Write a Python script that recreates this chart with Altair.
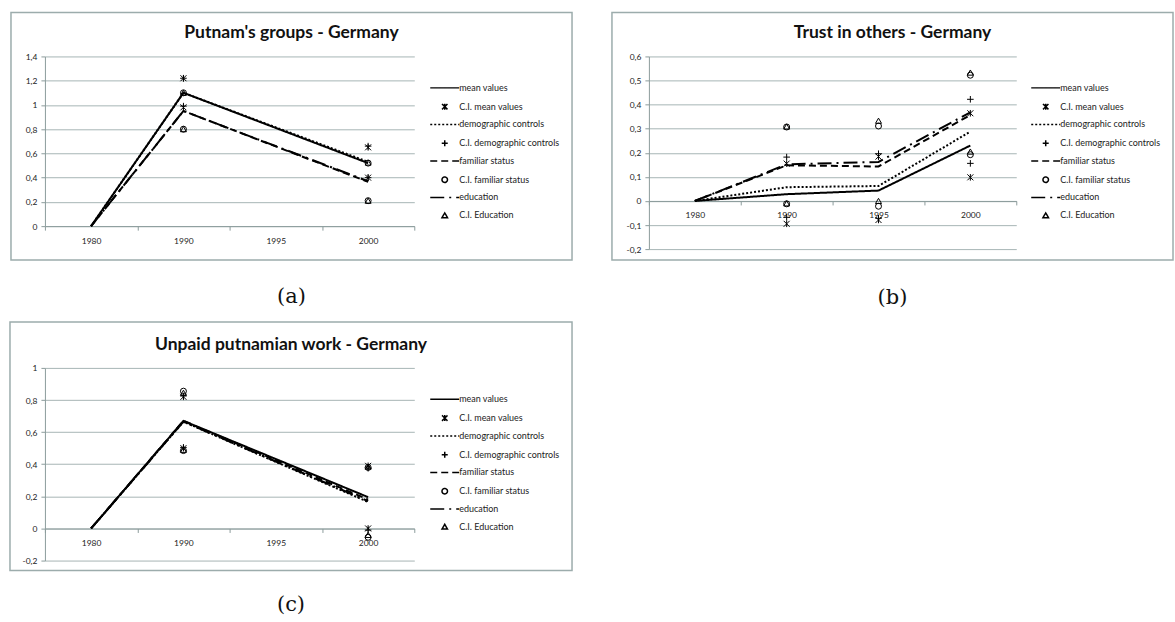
import altair as alt
import pandas as pd

YEARS = ["1980", "1990", "1995", "2000"]
SERIES = [
    "mean values", "C.I. mean values",
    "demographic controls", "C.I. demographic controls",
    "familiar status", "C.I. familiar status",
    "education", "C.I. Education",
]

# (a) Putnam's groups - Germany (no 1995 observation)
a_mean = [0.0, 1.10, None, 0.52]
a_demo = [0.0, 1.10, None, 0.53]
a_fam = [0.0, 0.95, None, 0.365]
a_edu = [0.0, 0.95, None, 0.37]
a_ci_mean_hi = [None, 1.22, None, 0.65]
a_ci_mean_lo = [None, 0.98, None, 0.40]
a_ci_demo_hi = [None, 1.22, None, 0.66]
a_ci_demo_lo = [None, 0.99, None, 0.40]
a_ci_fam_hi = [None, 1.10, None, 0.52]
a_ci_fam_lo = [None, 0.80, None, 0.21]
a_ci_edu_hi = [None, 1.10, None, 0.525]
a_ci_edu_lo = [None, 0.80, None, 0.21]
a_ticks = [0, 0.2, 0.4, 0.6, 0.8, 1.0, 1.2, 1.4]

# (b) Trust in others - Germany
b_mean = [0.0, 0.028, 0.043, 0.23]
b_demo = [0.0, 0.057, 0.062, 0.288]
b_fam = [0.0, 0.148, 0.143, 0.357]
b_edu = [0.0, 0.152, 0.162, 0.368]
b_ci_mean_hi = [None, 0.155, 0.184, 0.364]
b_ci_mean_lo = [None, -0.095, -0.079, 0.098]
b_ci_demo_hi = [None, 0.182, 0.196, 0.422]
b_ci_demo_lo = [None, -0.068, -0.072, 0.156]
b_ci_fam_hi = [None, 0.307, 0.311, 0.522]
b_ci_fam_lo = [None, -0.012, -0.022, 0.192]
b_ci_edu_hi = [None, 0.309, 0.333, 0.533]
b_ci_edu_lo = [None, -0.010, 0.000, 0.205]
b_ticks = [-0.2, -0.1, 0, 0.1, 0.2, 0.3, 0.4, 0.5, 0.6]

# (c) Unpaid putnamian work - Germany (no 1995 observation)
c_mean = [0.0, 0.67, None, 0.195]
c_demo = [0.0, 0.665, None, 0.165]
c_fam = [0.0, 0.67, None, 0.18]
c_edu = [0.0, 0.665, None, 0.17]
c_ci_mean_hi = [None, 0.82, None, 0.39]
c_ci_mean_lo = [None, 0.50, None, 0.00]
c_ci_demo_hi = [None, 0.825, None, 0.375]
c_ci_demo_lo = [None, 0.505, None, -0.01]
c_ci_fam_hi = [None, 0.855, None, 0.38]
c_ci_fam_lo = [None, 0.485, None, -0.055]
c_ci_edu_hi = [None, 0.845, None, 0.385]
c_ci_edu_lo = [None, 0.49, None, -0.04]
c_ticks = [-0.2, 0, 0.2, 0.4, 0.6, 0.8, 1.0]

# line styles and CI marker glyphs, in SERIES order
KEY_LINE = "M-5.3,0L5.3,0"
STAR = "M-1,-1L1,1M-1,1L1,-1M0,-1.1L0,1.1"
PLUS = "M-1.1,0L1.1,0M0,-1.1L0,1.1"
SHAPES = [KEY_LINE, STAR, KEY_LINE, PLUS, KEY_LINE, "circle", KEY_LINE, "triangle-up"]
DASHES = [[1, 0], [1, 0], [2, 2], [1, 0], [7, 4], [1, 0], [14, 5, 2, 5], [1, 0]]

GRID = "#a7b5b5"
AXIS = "#8c9c9c"
FRAME = "#9cacac"
FONT = "Lato"
LABEL_EXPR = "replace(replace(format(datum.value, '.1~f'), '.', ','), '\u2212', '-')"


def line_frame(series):
    rows = []
    for name, vals in series.items():
        for yr, v in zip(YEARS, vals):
            if v is not None:
                rows.append({"year": yr, "series": name, "value": v})
    return pd.DataFrame(rows)


def ci_frame(bounds):
    rows = []
    for name, (hi, lo) in bounds.items():
        for yr, h, l in zip(YEARS, hi, lo):
            if h is not None:
                rows.append({"year": yr, "series": name, "value": h})
            if l is not None:
                rows.append({"year": yr, "series": name, "value": l})
    return pd.DataFrame(rows)


def panel(title, caption, lines, bounds, ydom, yticks, w, h, box, legend_xy):
    left, right, top, bottom = box
    cx = (left + right) / 2
    x_off = -h * (0 - ydom[0]) / (ydom[1] - ydom[0])

    x_enc = alt.X(
        "year:N",
        sort=YEARS,
        scale=alt.Scale(type="band", domain=YEARS, paddingInner=0, paddingOuter=0),
        axis=alt.Axis(
            title=None, labelAngle=0, grid=False, tickBand="extent",
            domainColor=AXIS, tickColor=AXIS, tickSize=4, domainWidth=1,
            labelFont=FONT, labelFontSize=8.5, labelColor="#222", labelPadding=6,
            offset=x_off,
        ),
    )
    y_enc = alt.Y(
        "value:Q",
        scale=alt.Scale(domain=ydom, nice=False, zero=False),
        axis=alt.Axis(
            title=None, values=yticks, grid=True, gridColor=GRID, gridWidth=1,
            domainColor=AXIS, tickColor=AXIS, tickSize=4,
            labelFont=FONT, labelFontSize=8.5, labelColor="#222", labelPadding=4,
            labelExpr=LABEL_EXPR,
        ),
    )
    leg = alt.Legend(
        title=None, orient="none", legendX=legend_xy[0], legendY=legend_xy[1],
        labelFont=FONT, labelFontSize=9, labelColor="#222", labelOffset=10,
        symbolSize=30, symbolStrokeWidth=1.5, symbolStrokeColor="black",
        symbolFillColor="transparent", rowPadding=6.8, labelLimit=200,
    )

    one = pd.DataFrame({"k": [0]})
    frame = alt.Chart(one).mark_rect(
        fill="transparent", stroke=FRAME, strokeWidth=1.5
    ).encode(x=alt.value(left), x2=alt.value(right), y=alt.value(top), y2=alt.value(bottom))
    head = alt.Chart(one).mark_text(
        font=FONT, fontSize=17.5, fontWeight="bold", color="#111",
        align="center", baseline="middle",
    ).encode(x=alt.value(cx), y=alt.value(-23), text=alt.value(title))
    foot = alt.Chart(one).mark_text(
        font="DejaVu Serif", fontSize=21, color="#111",
        align="center", baseline="middle",
    ).encode(x=alt.value(cx), y=alt.value(caption[1]), text=alt.value(caption[0]))

    line_layer = alt.Chart(line_frame(lines)).mark_line(
        color="black", strokeWidth=2
    ).encode(
        x=x_enc, y=y_enc,
        strokeDash=alt.StrokeDash("series:N", scale=alt.Scale(domain=SERIES, range=DASHES), legend=leg),
    )
    ci_layer = alt.Chart(ci_frame(bounds)).mark_point(
        color="black", filled=False, size=36, strokeWidth=1, opacity=1
    ).encode(
        x=x_enc, y=y_enc,
        shape=alt.Shape("series:N", scale=alt.Scale(domain=SERIES, range=SHAPES), legend=leg),
    )
    return alt.layer(frame, head, foot, line_layer, ci_layer).properties(width=w, height=h)


pa = panel(
    "Putnam's groups - Germany", ("(a)", 241),
    {"mean values": a_mean, "demographic controls": a_demo,
     "familiar status": a_fam, "education": a_edu},
    {"C.I. mean values": (a_ci_mean_hi, a_ci_mean_lo),
     "C.I. demographic controls": (a_ci_demo_hi, a_ci_demo_lo),
     "C.I. familiar status": (a_ci_fam_hi, a_ci_fam_lo),
     "C.I. Education": (a_ci_edu_hi, a_ci_edu_lo)},
    [0, 1.4], a_ticks, 370, 170, (-34, 528, -44, 204), (396, 27),
)
pb = panel(
    "Trust in others - Germany", ("(b)", 242),
    {"mean values": b_mean, "demographic controls": b_demo,
     "familiar status": b_fam, "education": b_edu},
    {"C.I. mean values": (b_ci_mean_hi, b_ci_mean_lo),
     "C.I. demographic controls": (b_ci_demo_hi, b_ci_demo_lo),
     "C.I. familiar status": (b_ci_fam_hi, b_ci_fam_lo),
     "C.I. Education": (b_ci_edu_hi, b_ci_edu_lo)},
    [-0.2, 0.6], b_ticks, 368, 193, (-37, 525, -44, 204), (393, 27),
)
pc = panel(
    "Unpaid putnamian work - Germany", ("(c)", 238),
    {"mean values": c_mean, "demographic controls": c_demo,
     "familiar status": c_fam, "education": c_edu},
    {"C.I. mean values": (c_ci_mean_hi, c_ci_mean_lo),
     "C.I. demographic controls": (c_ci_demo_hi, c_ci_demo_lo),
     "C.I. familiar status": (c_ci_fam_hi, c_ci_fam_lo),
     "C.I. Education": (c_ci_edu_hi, c_ci_edu_lo)},
    [-0.2, 1.0], c_ticks, 370, 193, (-35, 528, -46, 203), (396, 27),
)

top_row = alt.hconcat(pa, pb, spacing=36).resolve_scale(
    shape="independent", strokeDash="independent"
).resolve_legend(shape="independent", strokeDash="independent")

chart = alt.vconcat(
    top_row,
    pc,
    spacing=11,
).resolve_scale(
    shape="independent", strokeDash="independent"
).resolve_legend(
    shape="independent", strokeDash="independent"
).properties(
    padding={"left": 8, "top": 10, "right": 0, "bottom": 0},
    background="white",
).configure_view(stroke="transparent")

chart.save("out.html", embed_options={"renderer": "svg", "actions": False})
